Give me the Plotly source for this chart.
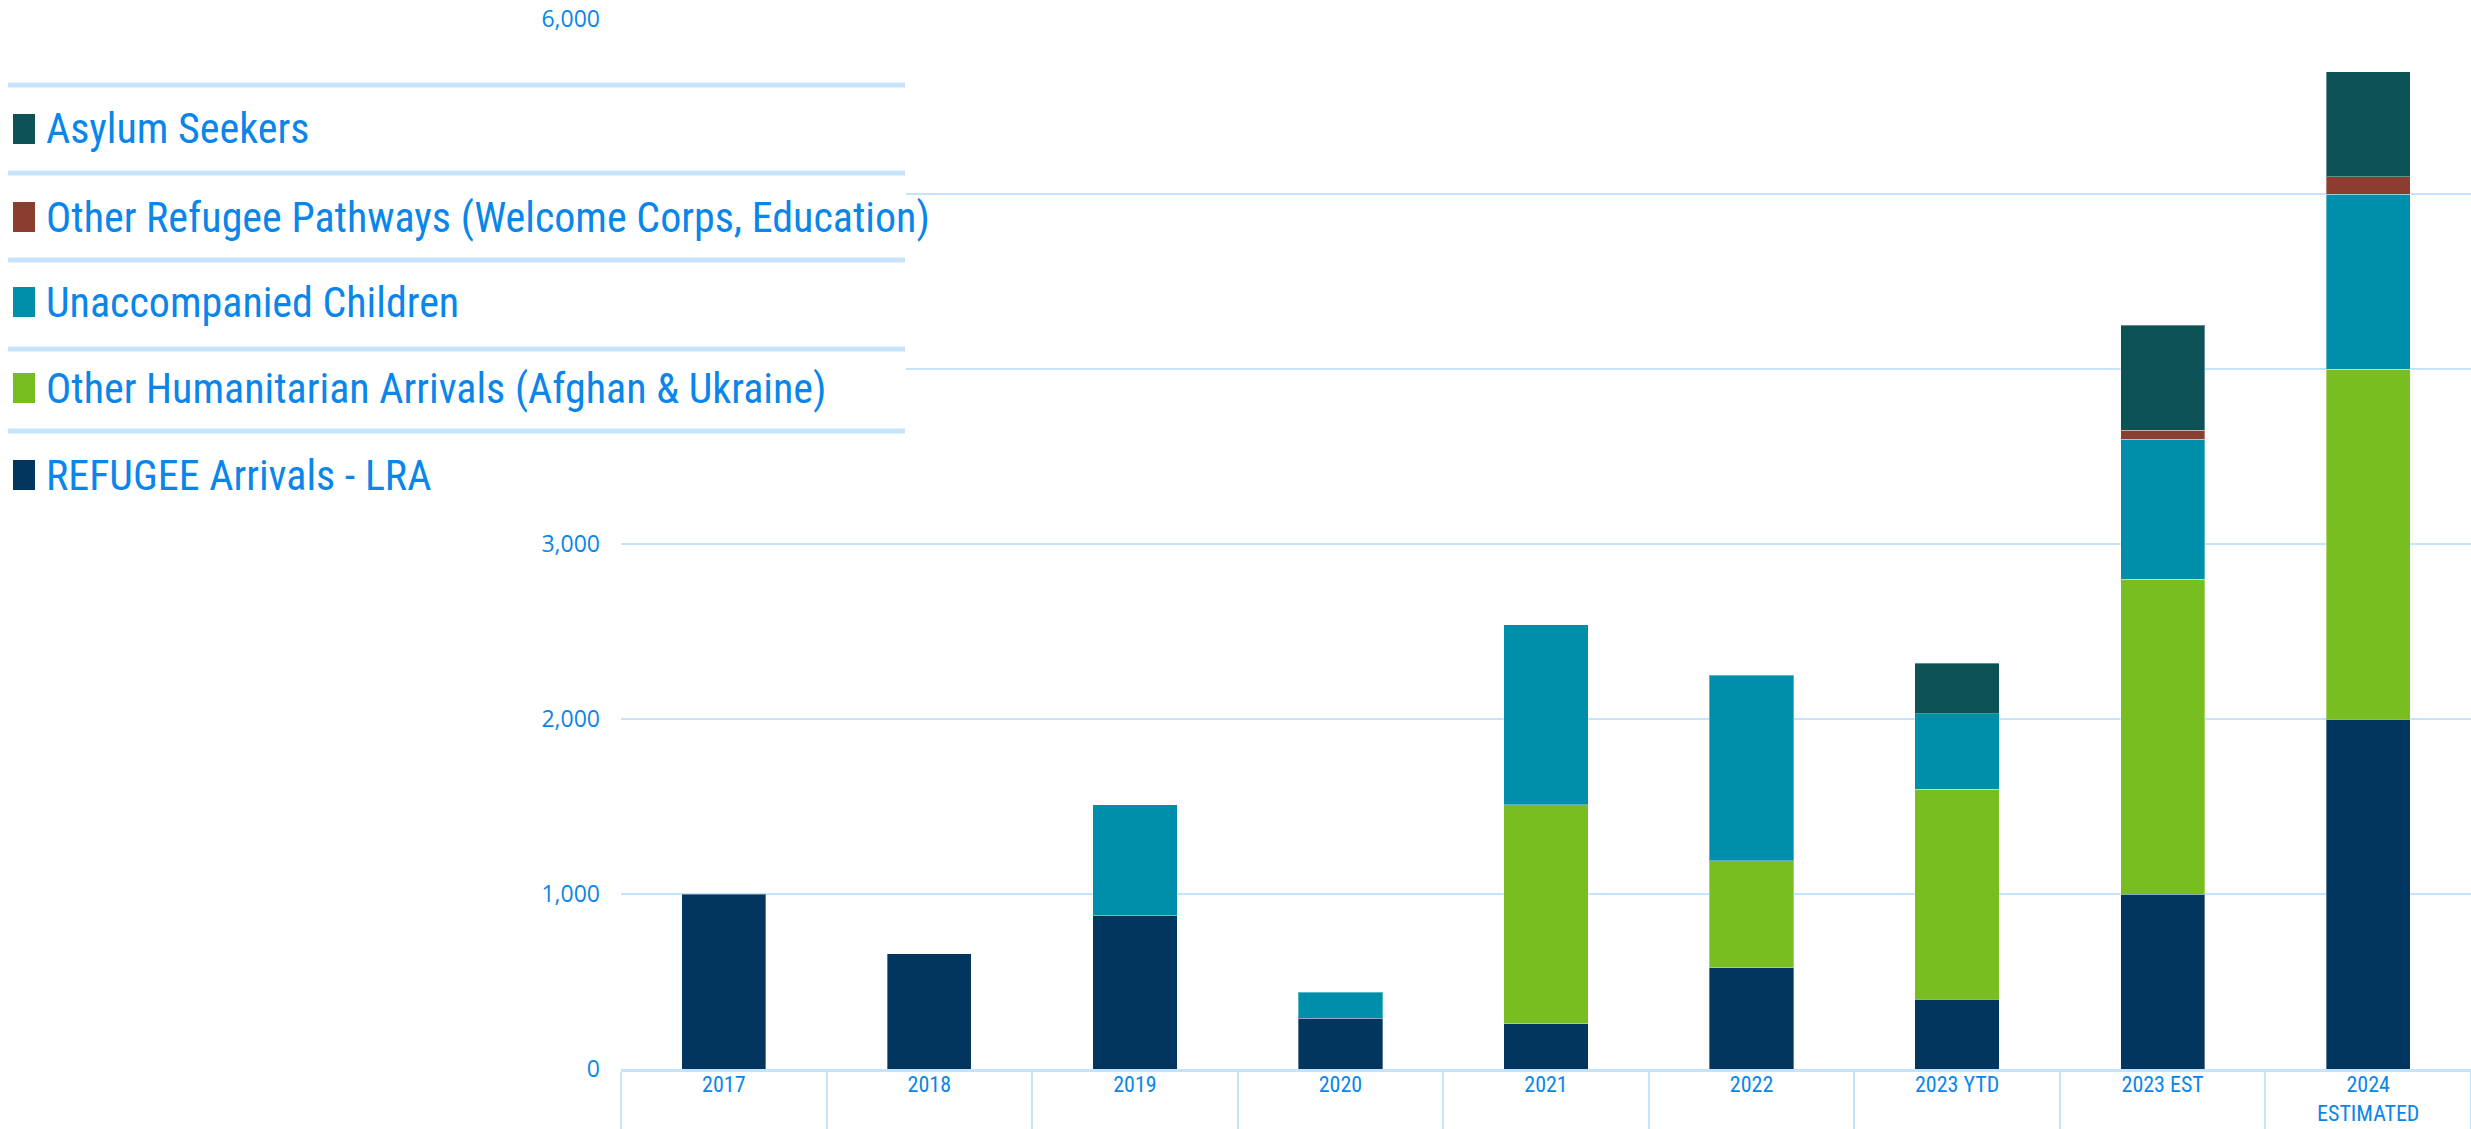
import plotly.graph_objects as go

# ---- data ----
categories = ["2017", "2018", "2019", "2020", "2021", "2022", "2023 YTD", "2023 EST", "2024 ESTIMATED"]
tick_labels = ["2017", "2018", "2019", "2020", "2021", "2022", "2023 YTD", "2023 EST", "2024<br>ESTIMATED"]

refugee_lra = [1000, 660, 880, 290, 260, 580, 400, 1000, 2000]
other_humanitarian = [None, None, None, None, 1250, 610, 1200, 1800, 2000]
unaccompanied = [None, None, 630, 150, 1030, 1060, 430, 800, 1000]
other_pathways = [None, None, None, None, None, None, None, 50, 100]
asylum = [None, None, None, None, None, None, 290, 600, 600]

series_names = [
    "REFUGEE Arrivals - LRA",
    "Other Humanitarian Arrivals (Afghan & Ukraine)",
    "Unaccompanied Children",
    "Other Refugee Pathways (Welcome Corps, Education)",
    "Asylum Seekers",
]
series_values = [refugee_lra, other_humanitarian, unaccompanied, other_pathways, asylum]
series_colors = ["#02365f", "#78be20", "#008fab", "#8b3e2f", "#0d5257"]

y_ticks = [0, 1000, 2000, 3000, 4000, 5000, 6000]
# 4,000 and 5,000 labels sit behind the legend panel in the original
y_tick_text = ["0", "1,000", "2,000", "3,000", "", "", "6,000"]

TEXT = "#0a86ea"
GRID = "#c5e3fa"
NARROW = "Liberation Sans Narrow, Arial Narrow, Roboto Condensed, Liberation Sans, sans-serif"

fig = go.Figure()
for name, vals, col in zip(series_names, series_values, series_colors):
    fig.add_trace(go.Bar(
        name=name, x=categories, y=vals,
        marker=dict(color=col, line=dict(color="rgba(255,255,255,0.35)", width=1)),
        showlegend=False,
    ))

W, H = 2471, 1129
PL, PR, PT, PB = 621, 2471, 19, 1069


def px(x):
    return (x - PL) / (PR - PL)


def py(y):
    return (PB - y) / (PB - PT)


shapes = []
annotations = []
# legend background panel (covers the upper-left part, as in the original)
shapes.append(dict(type="rect", xref="paper", yref="paper", layer="above",
                   x0=px(0), x1=px(906), y0=py(505), y1=py(68),
                   fillcolor="white", line=dict(width=0)))
for yy in [85, 173, 260, 349, 431]:
    shapes.append(dict(type="line", xref="paper", yref="paper", layer="above",
                       x0=px(8), x1=px(905), y0=py(yy), y1=py(yy),
                       line=dict(color=GRID, width=5)))

legend_order = [4, 3, 2, 1, 0]
legend_y = [129, 217, 302, 388, 475]
for idx, yc in zip(legend_order, legend_y):
    shapes.append(dict(type="rect", xref="paper", yref="paper", layer="above",
                       x0=px(13), x1=px(35), y0=py(yc + 15), y1=py(yc - 15),
                       fillcolor=series_colors[idx], line=dict(width=0)))
    annotations.append(dict(xref="paper", yref="paper", x=px(44), y=py(yc),
                            xanchor="left", yanchor="middle", showarrow=False,
                            text=series_names[idx],
                            font=dict(family=NARROW, size=42, color=TEXT)))

fig.update_layout(
    template="none",
    width=W, height=H,
    margin=dict(l=PL, r=W - PR, t=PT, b=H - PB, pad=0),
    paper_bgcolor="white", plot_bgcolor="white",
    barmode="stack", bargap=0.59,
    showlegend=False,
    shapes=shapes,
    annotations=annotations,
    xaxis=dict(
        type="category", categoryorder="array", categoryarray=categories,
        tickvals=categories, ticktext=tick_labels,
        tickson="boundaries", ticks="outside", ticklen=60, tickwidth=2, tickcolor=GRID,
        showline=True, linecolor=GRID, linewidth=3,
        showgrid=False, zeroline=False, automargin=False,
        tickfont=dict(family=NARROW, size=22, color=TEXT),
        ticklabelstandoff=-6,
    ),
    yaxis=dict(
        range=[0, 6000], tickvals=y_ticks, ticktext=y_tick_text,
        showgrid=True, gridcolor=GRID, gridwidth=2,
        zeroline=False, showline=False, ticks="", automargin=False,
        tickfont=dict(family="Open Sans, sans-serif", size=23, color=TEXT),
        ticklabelstandoff=20,
    ),
)

fig.write_html(
    "out.html",
    config={"displayModeBar": False},
    post_script="document.body.style.margin='0px';document.body.style.overflow='hidden';",
)
